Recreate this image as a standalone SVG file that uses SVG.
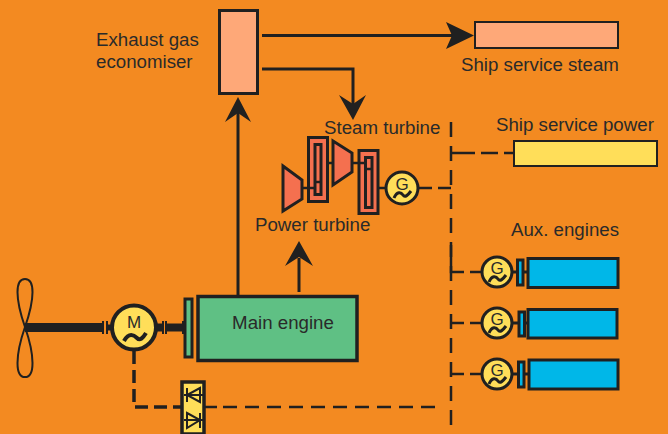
<svg xmlns="http://www.w3.org/2000/svg" width="668" height="434" viewBox="0 0 668 434">
<style>
text{font-family:"Liberation Sans",Arial,sans-serif;font-size:18.7px;fill:#2a2a2a}
.l{fill:none;stroke:#202020;stroke-width:3}
.d{fill:none;stroke:#202020;stroke-width:2.5}
.t{fill:#f4704f;stroke:#202020;stroke-width:3}
.g{fill:#ffde59;stroke:#202020;stroke-width:3}
.w{fill:none;stroke:#202020;stroke-width:3}
.ah{fill:#202020}
.c{font-size:17px}
.a{fill:#00b7e8;stroke:#202020;stroke-width:3}
.k{stroke:#202020;fill:none}
</style>
<rect width="668" height="434" fill="#f38a21"/>
<g id="connectors">
<path class="l" d="M262 35.500H455"/><path class="ah" d="M474 35.500L446 22L452 35.500L446 49Z"/>
<path class="l" d="M262 69H353V106"/><path class="ah" d="M353 120L339 95L353 104L366 95Z"/>
<path class="l" d="M238 296V112"/><path class="ah" d="M238 97L225 122L238 113L251 122Z"/>
<path class="l" d="M299 292V258"/><path class="ah" d="M299 241L285 266L299 257L313 266Z"/>
<path class="d" d="M451 122V430" stroke-dasharray="15 9"/>
<path class="d" d="M418 188H432M438 188H451"/>
<path class="d" d="M451 153H475M481 153H498M504 153H513"/>
<path class="d" d="M451 245V272H464M470 272H481"/>
<path class="d" d="M451 323H464M470 323H481"/>
<path class="d" d="M451 374H464M470 374H481"/>
<path class="d" d="M205 407H217M223 407H441" stroke-dasharray="14 8"/>
<path d="M134 351V407H182" fill="none" stroke="#202020" stroke-width="3.5" stroke-dasharray="13 6"/>
</g>
<g id="propeller">
<path d="M25 327C15 298 15 279 25 279C35 279 35 298 25 327C15 356 15 377 25 377C35 377 35 356 25 327Z" fill="none" stroke="#202020" stroke-width="2"/>
<path d="M25 327.500H103" stroke="#202020" stroke-width="9"/>
<path d="M103 321V334M107 321V334" stroke="#202020" stroke-width="2"/>
<path d="M107 327.500H112" stroke="#202020" stroke-width="6"/>
<path d="M156 327.500H163" stroke="#202020" stroke-width="8"/>
<path d="M163 321V334M166 321V334" stroke="#202020" stroke-width="2"/>
<path d="M166 327.500H185" stroke="#202020" stroke-width="8"/>
<path d="M183 321V334" stroke="#202020" stroke-width="2"/>
</g>
<g id="motor">
<circle class="g" cx="134" cy="327.500" r="22" stroke-width="4" style="stroke-width:4"/>
<text x="134" y="328" text-anchor="middle" class="c">M</text>
<path class="w" d="M124 341C129 332 134 335 137 338C140 341 143 338 146 333" style="stroke-width:4"/>
</g>
<g id="clutch"><rect x="185" y="299" width="7" height="58" fill="#5fc084" stroke="#202020" stroke-width="3"/></g>
<g id="main-engine">
<rect x="198" y="296.500" width="159" height="64" fill="#5fc084" stroke="#202020" stroke-width="3.500"/>
<text x="283" y="329" text-anchor="middle">Main engine</text>
</g>
<g id="converter">
<rect x="182" y="382" width="22" height="52" fill="#ffde59" stroke="#202020" stroke-width="3.500"/>
<path class="k" stroke-width="2" d="M200 388L187 395L200 402ZM187 388V402M184 395H203"/>
<path class="k" stroke-width="2" d="M187 413L200 420L187 428ZM200 413V428M184 420H203"/>
</g>
<g id="economiser">
<rect x="219.500" y="10.500" width="38" height="83" fill="#fea878" stroke="#202020" stroke-width="3"/>
<text x="96" y="46">Exhaust gas</text><text x="96" y="68">economiser</text>
</g>
<g id="ship-steam">
<rect x="475" y="22" width="143" height="26" fill="#fea878" stroke="#202020" stroke-width="2"/>
<text x="461" y="71">Ship service steam</text>
</g>
<g id="ship-power">
<rect x="514" y="141" width="143" height="25" fill="#ffde59" stroke="#202020" stroke-width="2"/>
<text x="496" y="131">Ship service power</text>
</g>
<g id="turbines">
<rect x="308.500" y="137.500" width="19" height="64" class="t"/><rect x="315" y="144.500" width="6" height="50" class="t"/>
<rect x="359" y="150.500" width="19" height="63" class="t"/><rect x="365.500" y="157.500" width="6.500" height="50" class="t"/>
<path d="M283 166L302 180V199L283 211Z" class="t"/>
<path d="M333 141L352 153V172L333 185Z" class="t"/>
<path class="k" stroke-width="2.500" d="M302 188H315M315 182H321M327 163H333M352 163H365M365 169H372M378 188H385"/>
<text x="324" y="134">Steam turbine</text>
<text x="255" y="231">Power turbine</text>
</g>
<g id="generator">
<circle class="g" cx="402" cy="188" r="16"/>
<text x="402" y="190" text-anchor="middle" class="c">G</text>
<path class="w" d="M394 198C397 191 401 192 403 195C405 198 408 195 411 191"/>
</g>
<text x="511" y="236">Aux. engines</text>
<g id="aux-1">
<path d="M512 272H528" stroke="#202020" stroke-width="3"/>
<circle class="g" cx="497" cy="272" r="15"/><text x="497" y="274" text-anchor="middle" class="c">G</text>
<path class="w" d="M489 282C492 275 496 276 498 279C500 282 503 279 506 275"/>
<rect x="517.500" y="260" width="5.500" height="25" class="a"/>
<rect x="528" y="258.500" width="90" height="29" class="a"/>
</g>
<g id="aux-2">
<path d="M512 323H528" stroke="#202020" stroke-width="3"/>
<circle class="g" cx="497" cy="323" r="15"/><text x="497" y="325" text-anchor="middle" class="c">G</text>
<path class="w" d="M489 333C492 326 496 327 498 330C500 333 503 330 506 326"/>
<rect x="519" y="312" width="5.500" height="24" class="a"/>
<rect x="528" y="309.500" width="89" height="28.500" class="a"/>
</g>
<g id="aux-3">
<path d="M512 374H528" stroke="#202020" stroke-width="3"/>
<circle class="g" cx="497" cy="374" r="15"/><text x="497" y="376" text-anchor="middle" class="c">G</text>
<path class="w" d="M489 384C492 377 496 378 498 381C500 384 503 381 506 377"/>
<rect x="518.500" y="362" width="5.500" height="25" class="a"/>
<rect x="529" y="360" width="89" height="29" class="a"/>
</g>
</svg>
